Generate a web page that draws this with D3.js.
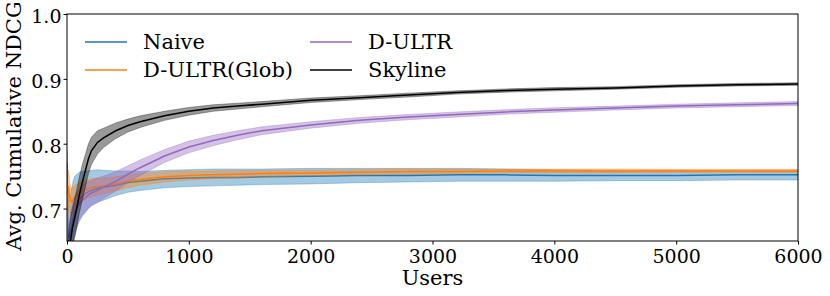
<!DOCTYPE html>
<html>
<head>
<meta charset="utf-8">
<script src="https://cdn.jsdelivr.net/npm/d3@7/dist/d3.min.js"></script>
<style>
  body { margin: 0; background: #fff; }
  text { font-family: "DejaVu Serif", serif; fill: #000; }
</style>
</head>
<body>
<script>
// users axis sample points
var users = [1, 3, 6, 10, 15, 20, 30, 40, 50, 60, 80, 100, 125, 150, 175, 200, 250, 300, 400, 500,
             600, 800, 1000, 1200, 1400, 1600, 2000, 2400, 2800, 3200, 3600, 4000, 4500, 5000, 5500, 6000];

// Naive
var naiveMean = [0.770, 0.720, 0.680, 0.660, 0.655, 0.660, 0.668, 0.672, 0.683, 0.692, 0.705, 0.714, 0.719, 0.723, 0.726, 0.728, 0.731, 0.733, 0.736, 0.740,
                 0.742, 0.746, 0.747, 0.748, 0.748, 0.749, 0.750, 0.751, 0.751, 0.752, 0.752, 0.751, 0.751, 0.751, 0.752, 0.752];
var naiveLo   = [0.700, 0.650, 0.620, 0.600, 0.600, 0.610, 0.620, 0.630, 0.645, 0.655, 0.670, 0.680, 0.688, 0.694, 0.700, 0.705, 0.710, 0.713, 0.720, 0.725,
                 0.728, 0.732, 0.734, 0.735, 0.736, 0.737, 0.738, 0.740, 0.741, 0.742, 0.742, 0.742, 0.743, 0.743, 0.744, 0.744];
var naiveHi   = [0.790, 0.785, 0.740, 0.720, 0.712, 0.712, 0.722, 0.732, 0.742, 0.749, 0.753, 0.756, 0.757, 0.758, 0.758, 0.759, 0.760, 0.759, 0.758, 0.758,
                 0.757, 0.759, 0.760, 0.761, 0.761, 0.761, 0.762, 0.762, 0.762, 0.762, 0.761, 0.760, 0.759, 0.759, 0.759, 0.759];

// D-ULTR(Glob)
var globMean = [0.630, 0.680, 0.720, 0.735, 0.730, 0.720, 0.712, 0.710, 0.714, 0.717, 0.721, 0.724, 0.727, 0.729, 0.731, 0.732, 0.734, 0.735, 0.738, 0.742,
                0.745, 0.749, 0.751, 0.752, 0.753, 0.754, 0.755, 0.756, 0.757, 0.757, 0.758, 0.758, 0.758, 0.758, 0.758, 0.758];
var globSpread = [0.060, 0.050, 0.030, 0.025, 0.025, 0.025, 0.022, 0.020, 0.020, 0.018, 0.017, 0.016, 0.015, 0.015, 0.014, 0.014, 0.013, 0.012, 0.011, 0.010,
                  0.009, 0.008, 0.007, 0.006, 0.0055, 0.005, 0.0045, 0.004, 0.004, 0.0035, 0.003, 0.003, 0.003, 0.0025, 0.0025, 0.0025];

// D-ULTR
var dultrMean = [0.620, 0.600, 0.610, 0.625, 0.640, 0.650, 0.665, 0.675, 0.682, 0.690, 0.700, 0.707, 0.713, 0.717, 0.721, 0.724, 0.728, 0.733, 0.742, 0.753,
                 0.763, 0.781, 0.795, 0.805, 0.813, 0.820, 0.829, 0.836, 0.841, 0.845, 0.849, 0.852, 0.855, 0.858, 0.860, 0.862];
var dultrSpread = [0.030, 0.030, 0.030, 0.030, 0.030, 0.030, 0.030, 0.028, 0.027, 0.026, 0.025, 0.024, 0.023, 0.022, 0.021, 0.020, 0.019, 0.017, 0.015, 0.013,
                   0.012, 0.010, 0.009, 0.008, 0.007, 0.006, 0.005, 0.0045, 0.004, 0.004, 0.0035, 0.0035, 0.003, 0.003, 0.003, 0.003];

// Skyline
var skyMean = [0.600, 0.590, 0.600, 0.612, 0.625, 0.636, 0.652, 0.665, 0.675, 0.683, 0.700, 0.720, 0.740, 0.758, 0.776, 0.789, 0.802, 0.809, 0.820, 0.828,
               0.834, 0.843, 0.850, 0.855, 0.858, 0.861, 0.867, 0.871, 0.875, 0.879, 0.882, 0.884, 0.886, 0.889, 0.891, 0.892];
var skySpread = [0.040, 0.040, 0.040, 0.040, 0.040, 0.040, 0.035, 0.032, 0.030, 0.030, 0.029, 0.028, 0.027, 0.025, 0.023, 0.021, 0.018, 0.015, 0.012, 0.010,
                 0.009, 0.007, 0.006, 0.005, 0.0045, 0.004, 0.0035, 0.003, 0.003, 0.0025, 0.0025, 0.0025, 0.002, 0.002, 0.002, 0.002];

var xTicks = [0, 1000, 2000, 3000, 4000, 5000, 6000];
var yTicks = [0.7, 0.8, 0.9, 1.0];

var series = [
  { name: "Naive", color: "#1f77b4", mean: naiveMean,
    lo: naiveLo, hi: naiveHi },
  { name: "D-ULTR(Glob)", color: "#ff7f0e", mean: globMean,
    lo: globMean.map(function (m, i) { return m - globSpread[i]; }),
    hi: globMean.map(function (m, i) { return m + globSpread[i]; }) },
  { name: "D-ULTR", color: "#9467bd", mean: dultrMean,
    lo: dultrMean.map(function (m, i) { return m - dultrSpread[i]; }),
    hi: dultrMean.map(function (m, i) { return m + dultrSpread[i]; }) },
  { name: "Skyline", color: "#000000", mean: skyMean,
    lo: skyMean.map(function (m, i) { return m - skySpread[i]; }),
    hi: skyMean.map(function (m, i) { return m + skySpread[i]; }) }
];

var W = 830, H = 296;
var margin = { left: 67, right: 32, top: 14, bottom: 55 };
var labelSize = 21, tickFont = 19;

var svg = d3.select("body").append("svg")
  .attr("width", W)
  .attr("height", H);

var x = d3.scaleLinear().domain([0, 6000]).range([margin.left, W - margin.right]);
var y = d3.scaleLinear().domain([0.65, 1.0]).range([H - margin.bottom, margin.top]);

svg.append("clipPath").attr("id", "plotclip")
  .append("rect")
    .attr("x", margin.left)
    .attr("y", margin.top)
    .attr("width", W - margin.left - margin.right)
    .attr("height", H - margin.top - margin.bottom);

var plot = svg.append("g").attr("clip-path", "url(#plotclip)");

var line = d3.line()
  .x(function (d) { return x(d[0]); })
  .y(function (d) { return y(d[1]); });

var area = d3.area()
  .x(function (d) { return x(d[0]); })
  .y0(function (d) { return y(d[1]); })
  .y1(function (d) { return y(d[2]); });

series.forEach(function (s) {
  var pts = users.map(function (u, i) { return [u, s.mean[i]]; });
  var band = users.map(function (u, i) { return [u, s.lo[i], s.hi[i]]; });
  plot.append("path")
    .attr("d", line(pts))
    .attr("fill", "none")
    .attr("stroke", s.color)
    .attr("stroke-width", 1.5);
  plot.append("path")
    .attr("d", area(band))
    .attr("fill", s.color)
    .attr("fill-opacity", 0.4)
    .attr("stroke", s.color)
    .attr("stroke-opacity", 0.4)
    .attr("stroke-width", 0.8);
});

// axes
var xAxis = svg.append("g")
  .attr("transform", "translate(0," + (H - margin.bottom) + ")")
  .call(d3.axisBottom(x).tickValues(xTicks).tickSize(3.5).tickPadding(5).tickFormat(d3.format("d")));
var yAxis = svg.append("g")
  .attr("transform", "translate(" + margin.left + ",0)")
  .call(d3.axisLeft(y).tickValues(yTicks).tickSize(3.5).tickPadding(2).tickFormat(d3.format(".1f")));

[xAxis, yAxis].forEach(function (a) {
  a.select(".domain").remove();
  a.selectAll(".tick line").attr("stroke", "#000").attr("stroke-width", 1);
  a.selectAll(".tick text").attr("font-size", tickFont).attr("font-family", "DejaVu Serif");
});
yAxis.selectAll(".tick text").attr("dy", "0.45em");

// frame
svg.append("rect")
  .attr("x", margin.left)
  .attr("y", margin.top)
  .attr("width", W - margin.left - margin.right)
  .attr("height", H - margin.top - margin.bottom)
  .attr("fill", "none")
  .attr("stroke", "#000")
  .attr("stroke-width", 1);

svg.append("text")
  .attr("x", (margin.left + W - margin.right) / 2)
  .attr("y", 285)
  .attr("text-anchor", "middle")
  .attr("font-size", labelSize)
  .text("Users");

svg.append("text")
  .attr("transform", "translate(21,126) rotate(-90)")
  .attr("text-anchor", "middle")
  .attr("font-size", labelSize)
  .text("Avg. Cumulative NDCG");

// legend, two columns
var legendPos = [[85, 42], [85, 70], [310, 42], [310, 70]];
var legend = svg.append("g");
series.forEach(function (s, i) {
  var p = legendPos[i];
  legend.append("line")
    .attr("x1", p[0]).attr("x2", p[0] + 42)
    .attr("y1", p[1]).attr("y2", p[1])
    .attr("stroke", s.color)
    .attr("stroke-width", 1.5);
  legend.append("text")
    .attr("x", p[0] + 58)
    .attr("y", p[1])
    .attr("dy", "0.35em")
    .attr("font-size", labelSize)
    .text(s.name);
});
</script>
</body>
</html>
